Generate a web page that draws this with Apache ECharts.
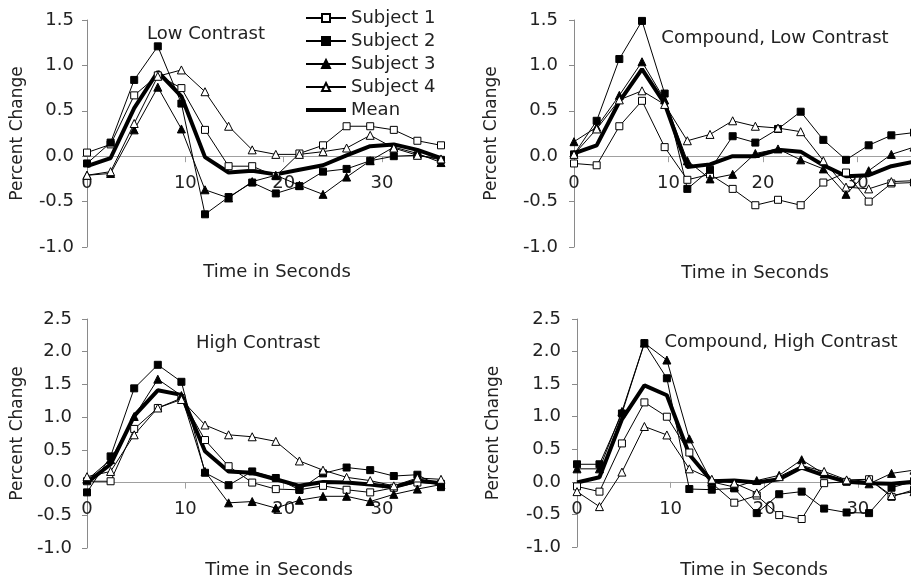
<!DOCTYPE html>
<html>
<head>
<meta charset="utf-8">
<script src="https://cdn.jsdelivr.net/npm/echarts@6/dist/echarts.min.js"></script>
<style>
html,body{margin:0;padding:0;background:#fff;}
#chart{width:911px;height:580px;}
</style>
</head>
<body>
<div id="chart"></div>
<script>
// ---- data ----
const times = [0, 2.4, 4.8, 7.2, 9.6, 12, 14.4, 16.8, 19.2, 21.6, 24, 26.4, 28.8, 31.2, 33.6, 36];
const seriesNames = ['Subject 1', 'Subject 2', 'Subject 3', 'Subject 4', 'Mean'];
const panelTitles = ['Low Contrast', 'Compound, Low Contrast', 'High Contrast', 'Compound, High Contrast'];
const xTickLabels = [0, 10, 20, 30];
const yMaxTop = 1.5;
const yMaxBottom = 2.5;
const yMin = -1.0;

// Low Contrast
const lowS1 = [0.04, 0.13, 0.67, 0.89, 0.75, 0.29, -0.11, -0.11, -0.22, 0.03, 0.12, 0.33, 0.33, 0.29, 0.17, 0.12];
const lowS2 = [-0.08, 0.15, 0.84, 1.21, 0.58, -0.64, -0.45, -0.29, -0.41, -0.33, -0.17, -0.14, -0.05, 0.0, 0.01, -0.04];
const lowS3 = [-0.21, -0.19, 0.29, 0.76, 0.30, -0.37, -0.46, -0.28, -0.21, -0.32, -0.42, -0.23, -0.05, 0.10, 0.03, -0.07];
const lowS4 = [-0.21, -0.17, 0.36, 0.88, 0.95, 0.71, 0.33, 0.07, 0.02, 0.02, 0.05, 0.09, 0.23, 0.09, 0.01, -0.03];
const lowMean = [-0.11, -0.02, 0.53, 0.93, 0.66, -0.01, -0.18, -0.16, -0.20, -0.15, -0.10, 0.01, 0.11, 0.13, 0.07, -0.02];

// Compound, Low Contrast
const clS1 = [-0.08, -0.10, 0.33, 0.61, 0.10, -0.26, -0.20, -0.36, -0.54, -0.48, -0.54, -0.29, -0.18, -0.50, -0.30, -0.29];
const clS2 = [0.02, 0.39, 1.07, 1.49, 0.69, -0.36, -0.15, 0.22, 0.15, 0.30, 0.49, 0.18, -0.04, 0.12, 0.23, 0.26];
const clS3 = [0.16, 0.32, 0.67, 1.04, 0.62, -0.05, -0.25, -0.20, 0.03, 0.08, -0.04, -0.14, -0.42, -0.16, 0.02, 0.10];
const clS4 = [0.02, 0.30, 0.62, 0.72, 0.57, 0.17, 0.24, 0.39, 0.33, 0.31, 0.27, -0.05, -0.34, -0.36, -0.28, -0.27];
const clMean = [0.03, 0.12, 0.60, 0.96, 0.58, -0.12, -0.09, 0.0, 0.0, 0.07, 0.05, -0.10, -0.22, -0.21, -0.11, -0.06];

// High Contrast
const hS1 = [0.02, 0.02, 0.82, 1.14, 1.29, 0.65, 0.25, 0.0, -0.10, -0.11, -0.05, -0.11, -0.15, -0.08, 0.0, -0.02];
const hS2 = [-0.15, 0.40, 1.44, 1.80, 1.54, 0.15, -0.04, 0.17, 0.07, -0.11, 0.14, 0.23, 0.19, 0.10, 0.12, -0.07];
const hS3 = [0.04, 0.35, 1.01, 1.58, 1.33, 0.17, -0.31, -0.29, -0.39, -0.27, -0.21, -0.21, -0.29, -0.18, -0.10, -0.03];
const hS4 = [0.09, 0.17, 0.73, 1.14, 1.27, 0.88, 0.73, 0.70, 0.63, 0.33, 0.19, 0.08, 0.03, -0.05, 0.07, 0.05];
const hMean = [0.0, 0.28, 1.02, 1.41, 1.34, 0.48, 0.17, 0.15, 0.05, -0.05, 0.01, 0.0, -0.03, -0.07, 0.03, -0.01];

// Compound, High Contrast
const chS1 = [-0.07, -0.15, 0.59, 1.22, 1.0, 0.45, -0.02, -0.32, -0.21, -0.51, -0.57, -0.02, 0.0, 0.04, -0.23, -0.12];
const chS2 = [0.27, 0.27, 1.05, 2.13, 1.59, -0.11, -0.12, -0.10, -0.48, -0.19, -0.15, -0.41, -0.47, -0.48, -0.09, 0.01];
const chS3 = [0.20, 0.20, 1.08, 2.13, 1.87, 0.66, 0.0, -0.08, 0.02, 0.10, 0.34, 0.12, 0.02, -0.03, 0.13, 0.18];
const chS4 = [-0.15, -0.38, 0.15, 0.85, 0.72, 0.20, 0.04, -0.02, -0.17, 0.08, 0.25, 0.16, 0.03, 0.04, -0.21, -0.15];
const chMean = [-0.01, 0.07, 0.96, 1.48, 1.33, 0.42, 0.01, 0.02, -0.01, 0.04, 0.22, 0.10, 0.0, -0.02, -0.03, 0.0];

const panelData = [
  [lowS1, lowS2, lowS3, lowS4, lowMean],
  [clS1, clS2, clS3, clS4, clMean],
  [hS1, hS2, hS3, hS4, hMean],
  [chS1, chS2, chS3, chS4, chMean]
];
const panelYMax = [yMaxTop, yMaxTop, yMaxBottom, yMaxBottom];

// ---- layout / style ----
const FONT = 'DejaVu Sans';
const grids = [
  {left: 87, top: 20, width: 354, height: 227},
  {left: 574, top: 20, width: 340, height: 227},
  {left: 87, top: 319, width: 354, height: 229},
  {left: 577, top: 319, width: 337, height: 228}
];
const yLabelMargin = [13, 16, 15, 16];
const yNameGap = [61, 74, 61, 75];
const titlePos = [[206, 34], [775, 38], [258, 343], [781, 342]];
const xNamePos = [[277, 272], [755, 273], [279, 570], [754, 570]];

const symStyles = [
  {symbol: 'rect', symbolSize: 7, itemStyle: {color: '#fff', borderColor: '#000', borderWidth: 1}},
  {symbol: 'rect', symbolSize: 7, itemStyle: {color: '#000', borderColor: '#000', borderWidth: 1}},
  {symbol: 'triangle', symbolSize: 8, itemStyle: {color: '#000', borderColor: '#000', borderWidth: 1}},
  {symbol: 'triangle', symbolSize: 8, itemStyle: {color: '#fff', borderColor: '#000', borderWidth: 1}},
  {symbol: 'none', symbolSize: 0, itemStyle: {color: '#000'}}
];

// x axis sits on the zero line: shift it up from the grid bottom by the scale position of 0
function zeroOffset(i) {
  const g = grids[i];
  return -g.height * (0 - yMin) / (panelYMax[i] - yMin);
}

const legendData = seriesNames.map((n, i) => i === 4
  ? {name: n, icon: 'path://M0,0L40,0L40,4L0,4Z'}
  : {name: n});

const option = {
  animation: false,
  backgroundColor: '#fff',
  textStyle: {fontFamily: FONT},
  legend: {
    orient: 'vertical', left: 300, top: 4, itemWidth: 40, itemHeight: 10, itemGap: 5,
    selectedMode: false,
    data: legendData,
    textStyle: {fontFamily: FONT, fontSize: 18, color: '#222'}
  },
  grid: grids.map(g => Object.assign({containLabel: false, outerBoundsMode: 'none'}, g)),
  xAxis: grids.map((g, i) => ({
    type: 'value', gridIndex: i, min: 0, max: 36, position: 'bottom', offset: zeroOffset(i),
    axisLine: {show: true, onZero: false, lineStyle: {color: '#a0a0a0', width: 1}},
    axisTick: {show: true, customValues: [10, 20, 30], length: 6, lineStyle: {color: '#a0a0a0'}},
    axisLabel: {customValues: xTickLabels, margin: 18, fontFamily: FONT, fontSize: 18, color: '#222'},
    splitLine: {show: false}
  })),
  yAxis: grids.map((g, i) => ({
    type: 'value', gridIndex: i, min: yMin, max: panelYMax[i], interval: 0.5,
    axisLine: {show: true, onZero: false, lineStyle: {color: '#8a8a8a', width: 1}},
    axisTick: {show: true, length: 5, lineStyle: {color: '#8a8a8a'}},
    axisLabel: {margin: yLabelMargin[i], fontFamily: FONT, fontSize: 18, color: '#222',
      formatter: v => v.toFixed(1)},
    splitLine: {show: false},
    name: 'Percent Change', nameLocation: 'middle', nameRotate: 90, nameGap: yNameGap[i],
    nameTextStyle: {fontFamily: FONT, fontSize: 17, color: '#222'}
  })),
  series: [],
  graphic: []
};

panelData.forEach((arrs, p) => {
  arrs.forEach((vals, s) => {
    const st = symStyles[s];
    option.series.push({
      type: 'line', name: seriesNames[s], xAxisIndex: p, yAxisIndex: p,
      data: times.map((t, k) => [t, vals[k]]),
      symbol: st.symbol, symbolSize: st.symbolSize, showSymbol: s < 4, showAllSymbol: true,
      itemStyle: st.itemStyle,
      lineStyle: {color: '#000', width: s === 4 ? 4 : 1},
      z: s === 4 ? 3 : 4,
      silent: true, emphasis: {disabled: true}
    });
  });
  option.graphic.push({
    type: 'text', x: titlePos[p][0], y: titlePos[p][1], silent: true,
    style: {text: panelTitles[p], font: '18px "DejaVu Sans"', fill: '#222',
      textAlign: 'center', align: 'center', textVerticalAlign: 'middle', verticalAlign: 'middle'}
  });
  option.graphic.push({
    type: 'text', x: xNamePos[p][0], y: xNamePos[p][1], silent: true,
    style: {text: 'Time in Seconds', font: '18px "DejaVu Sans"', fill: '#222',
      textAlign: 'center', align: 'center', textVerticalAlign: 'middle', verticalAlign: 'middle'}
  });
});

const chart = echarts.init(document.getElementById('chart'), null, {renderer: 'canvas'});
chart.setOption(option);
</script>
</body>
</html>
